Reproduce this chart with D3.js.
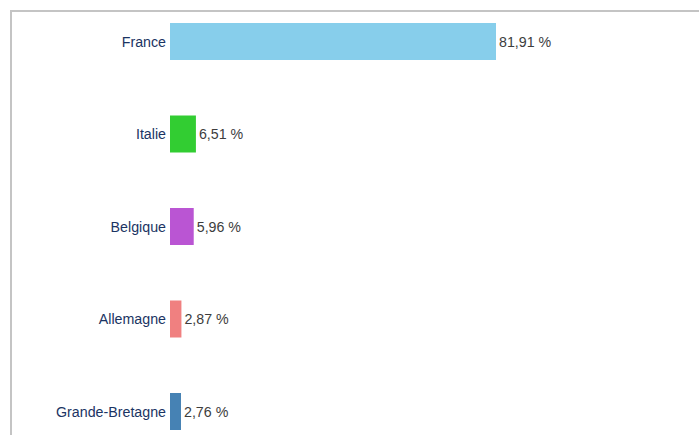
<!DOCTYPE html>
<html>
<head>
<meta charset="utf-8">
<script src="https://cdn.jsdelivr.net/npm/d3@7"></script>
<style>
  html, body { margin: 0; padding: 0; background: #fff; }
  svg { display: block; }
</style>
</head>
<body>
<svg id="chart" width="699" height="435"></svg>
<script>
const categories = ["France", "Italie", "Belgique", "Allemagne", "Grande-Bretagne"];
const values = [81.91, 6.51, 5.96, 2.87, 2.76];
const colors = ["#87CEEB", "#32CD32", "#BA55D3", "#F08080", "#4682B4"];
const valueLabels = ["81,91 %", "6,51 %", "5,96 %", "2,87 %", "2,76 %"];

const svg = d3.select("#chart");

// frame
svg.append("rect")
  .attr("x", 11).attr("y", 11)
  .attr("width", 720).attr("height", 460)
  .attr("fill", "none")
  .attr("stroke", "#c4c4c4")
  .attr("stroke-width", 2);

const x = d3.scaleLinear().domain([0, 81.91]).range([170, 496]);
const y = d3.scaleBand().domain(categories).range([23, 430]).paddingInner(0.6).paddingOuter(0);

const data = categories.map((c, i) => ({ c, v: values[i], col: colors[i], lab: valueLabels[i] }));

const g = svg.append("g");

g.selectAll("rect.bar").data(data).enter().append("rect")
  .attr("class", "bar")
  .attr("x", x(0))
  .attr("y", d => y(d.c))
  .attr("width", d => x(d.v) - x(0))
  .attr("height", y.bandwidth())
  .attr("fill", d => d.col);

const sx = 0.95;

g.selectAll("text.cat").data(data).enter().append("text")
  .attr("class", "cat")
  .attr("transform", d => `translate(${x(0) - 4},${y(d.c) + y.bandwidth() / 2}) scale(${sx},1)`)
  .attr("dy", "0.35em")
  .attr("text-anchor", "end")
  .attr("font-family", "Liberation Sans, Arial, sans-serif")
  .attr("font-size", 15)
  .attr("fill", "#1b3463")
  .text(d => d.c);

g.selectAll("text.val").data(data).enter().append("text")
  .attr("class", "val")
  .attr("transform", d => `translate(${x(d.v) + 3},${y(d.c) + y.bandwidth() / 2}) scale(${sx},1)`)
  .attr("dy", "0.35em")
  .attr("text-anchor", "start")
  .attr("font-family", "Liberation Sans, Arial, sans-serif")
  .attr("font-size", 15)
  .attr("fill", "#3d3d3d")
  .text(d => d.lab);
</script>
</body>
</html>
